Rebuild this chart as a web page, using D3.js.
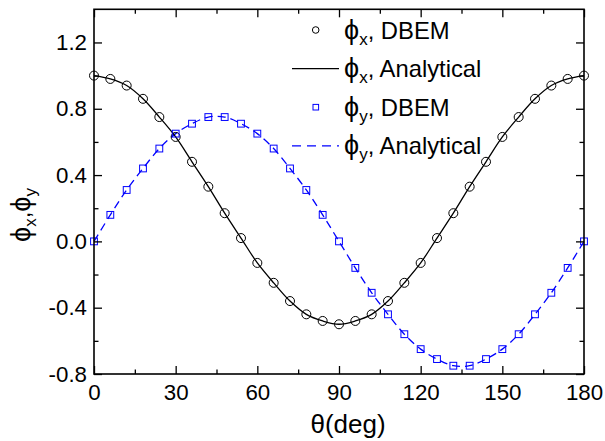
<!DOCTYPE html>
<html><head><meta charset="utf-8">
<script src="https://cdn.jsdelivr.net/npm/d3@7"></script>
<style>body{margin:0;background:#fff}svg{display:block}text{font-family:Arial,"Liberation Sans",sans-serif}</style>
</head><body><svg id="c" width="605" height="441"></svg>
<script>
const theta = [0,6,12,18,24,30,36,42,48,54,60,66,72,78,84,90,96,102,108,114,120,126,132,138,144,150,156,162,168,174,180];
const phiX = [1.00,0.98,0.94,0.86,0.75,0.63,0.48,0.33,0.17,0.02,-0.13,-0.25,-0.36,-0.44,-0.48,-0.50,-0.48,-0.44,-0.36,-0.25,-0.13,0.02,0.17,0.33,0.48,0.63,0.75,0.86,0.94,0.98,1.00];
const phiY = [0.00,0.16,0.31,0.44,0.56,0.65,0.71,0.75,0.75,0.71,0.65,0.56,0.44,0.31,0.16,0.00,-0.16,-0.31,-0.44,-0.56,-0.65,-0.71,-0.75,-0.75,-0.71,-0.65,-0.56,-0.44,-0.31,-0.16,0.00];
const xTicks = [0,30,60,90,120,150,180];
const xMinor = [15,45,75,105,135,165];
const yTicks = [-0.8,-0.4,0.0,0.4,0.8,1.2];
const yMinor = [-0.6,-0.2,0.2,0.6,1.0];
const yTickLabels = ["-0.8","-0.4","0.0","0.4","0.8","1.2"];

const PHI = "\u03D5";
const svg = d3.select("#c");
const L=94, R=584, T=9.3, B=374;
const x = d3.scaleLinear().domain([0,180]).range([L,R]);
const y = d3.scaleLinear().domain([-0.8,1.4]).range([B,T]);
const blue = "#0000ff";

// lines
const line = (arr)=> d3.line().x((d,i)=>x(theta[i])).y(d=>y(d)).curve(d3.curveCatmullRom.alpha(0.5))(arr);
svg.append("path").attr("d", line(phiY)).attr("fill","none").attr("stroke",blue).attr("stroke-width",1.3).attr("stroke-dasharray","8,5");
svg.append("path").attr("d", line(phiX)).attr("fill","none").attr("stroke","#000").attr("stroke-width",1.3);

// markers
svg.append("g").selectAll("circle").data(phiX).join("circle")
  .attr("cx",(d,i)=>x(theta[i])).attr("cy",d=>y(d)).attr("r",4.5)
  .attr("fill","none").attr("stroke","#000").attr("stroke-width",1);
svg.append("g").selectAll("rect").data(phiY).join("rect")
  .attr("x",(d,i)=>x(theta[i])-3.4).attr("y",d=>y(d)-3.4).attr("width",6.8).attr("height",6.8)
  .attr("fill","none").attr("stroke",blue).attr("stroke-width",1);

// axes
svg.append("g").attr("transform",`translate(0,${B})`)
  .call(d3.axisBottom(x).tickValues(xTicks).tickSize(-8).tickPadding(10).tickFormat(d3.format("d")));
svg.append("g").attr("transform",`translate(0,${B})`)
  .call(d3.axisBottom(x).tickValues(xMinor).tickSize(-4.5).tickFormat(""));
svg.append("g").attr("transform",`translate(0,${T})`)
  .call(d3.axisTop(x).tickValues(xTicks).tickSize(-8).tickFormat(""));
svg.append("g").attr("transform",`translate(0,${T})`)
  .call(d3.axisTop(x).tickValues(xMinor).tickSize(-4.5).tickFormat(""));
svg.append("g").attr("transform",`translate(${L},0)`)
  .call(d3.axisLeft(y).tickValues(yTicks).tickSize(-8).tickPadding(7).tickFormat((d,i)=>yTickLabels[i]));
svg.append("g").attr("transform",`translate(${L},0)`)
  .call(d3.axisLeft(y).tickValues(yMinor).tickSize(-4.5).tickFormat(""));
svg.append("g").attr("transform",`translate(${R},0)`)
  .call(d3.axisRight(y).tickValues(yTicks).tickSize(-8).tickFormat(""));
svg.append("g").attr("transform",`translate(${R},0)`)
  .call(d3.axisRight(y).tickValues(yMinor).tickSize(-4.5).tickFormat(""));
svg.selectAll(".domain").remove();
svg.selectAll(".tick line").attr("stroke","#000").attr("stroke-width",1.3);
svg.selectAll(".tick text").attr("font-size",22.3).attr("fill","#000").style("font-family","Arial, 'Liberation Sans', sans-serif");
svg.append("rect").attr("x",L).attr("y",T).attr("width",R-L).attr("height",B-T)
  .attr("fill","none").attr("stroke","#000").attr("stroke-width",1.6);

// axis titles
svg.append("text").attr("x",348).attr("y",433).attr("text-anchor","middle").attr("font-size",26).text("\u03B8(deg)");
const yl = svg.append("text").attr("transform","translate(30,215) rotate(-90)").attr("text-anchor","middle").attr("font-size",24);
yl.append("tspan").attr("font-size",27).text(PHI);
yl.append("tspan").attr("font-size",17).attr("dy",6).text("x");
yl.append("tspan").attr("dy",-6).text(",");
yl.append("tspan").attr("font-size",27).text(PHI);
yl.append("tspan").attr("font-size",17).attr("dy",6).text("y");

// legend
const leg = [
  {sub:"x", lab:", DBEM", type:"circle", color:"#000"},
  {sub:"x", lab:", Analytical", type:"line", color:"#000"},
  {sub:"y", lab:", DBEM", type:"square", color:blue},
  {sub:"y", lab:", Analytical", type:"dash", color:blue}
];
const lg = svg.append("g");
leg.forEach((d,i)=>{
  const cy = 30 + i*38.6;
  if(d.type==="circle") lg.append("circle").attr("cx",315.7).attr("cy",cy).attr("r",3.3).attr("fill","none").attr("stroke",d.color);
  if(d.type==="square") lg.append("rect").attr("x",313).attr("y",cy-2.8).attr("width",5.6).attr("height",5.6).attr("fill","none").attr("stroke",d.color);
  if(d.type==="line") lg.append("line").attr("x1",292).attr("x2",339).attr("y1",cy).attr("y2",cy).attr("stroke",d.color).attr("stroke-width",1.3);
  if(d.type==="dash") lg.append("line").attr("x1",292).attr("x2",339).attr("y1",cy).attr("y2",cy).attr("stroke",d.color).attr("stroke-width",1.3).attr("stroke-dasharray","9,6");
  const t = lg.append("text").attr("x",344).attr("y",cy+8.5).attr("font-size",23.8);
  t.append("tspan").attr("font-size",27).text(PHI);
  t.append("tspan").attr("font-size",17).attr("dy",6).text(d.sub);
  t.append("tspan").attr("dy",-6).text(d.lab);
});
</script></body></html>
